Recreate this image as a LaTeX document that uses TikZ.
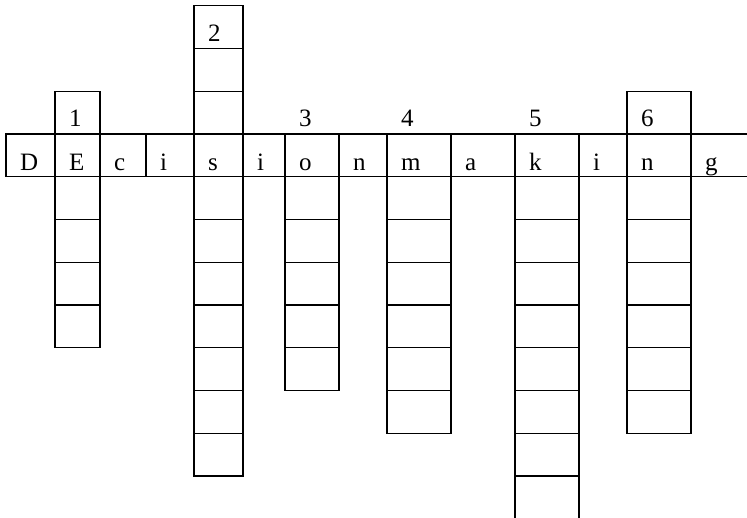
\documentclass[tikz,border=0pt]{standalone}
\usepackage{fontspec}
\setmainfont{Liberation Serif}

\begin{document}
\begin{tikzpicture}[x=1pt, y=-1pt,
    box/.style={draw, line width=1.1pt, line cap=rect},
    letter/.style={anchor=base west, inner sep=0pt, font=\fontsize{25}{30}\selectfont}
]
\useasboundingbox (0,0) rectangle (747,517);

% the word row
\draw[box] (6,134) -- (747,134);
\draw[box] (6,176.75) -- (747,176.75);
\foreach \x in {6,55,100,146,194,243,285,339,387,451,515,579,627,691}
    \draw[box] (\x,134) -- (\x,176.75);

% columns below the row
\foreach \l/\r/\n in {55/100/4, 194/243/7, 285/339/5, 387/451/6, 515/579/8, 627/691/6}
    \foreach \k in {1,...,\n}
        \draw[box] (\l,{134+42.75*\k}) rectangle (\r,{134+42.75*(\k+1)});

% cells above the row
\foreach \l/\r/\n in {55/100/1, 194/243/3, 627/691/1}
    \foreach \k in {1,...,\n}
        \draw[box] (\l,{134-42.75*\k}) rectangle (\r,{134-42.75*(\k-1)});

% letters
\foreach \x/\c [count=\i] in {6/D,55/E,100/c,146/i,194/s,243/i,285/o,339/n,387/m,451/a,515/k,579/i,627/n,691/g}
    \node[letter] (cell\i) at (\x+14,170.5) {\c};

% numbers
\foreach \x/\y/\t in {55/126.5/1, 194/41.5/2, 285/126.5/3, 387/126.5/4, 515/126.5/5, 627/126.5/6}
    \node[letter] (num\t) at (\x+14,\y) {\t};
\end{tikzpicture}
\end{document}
